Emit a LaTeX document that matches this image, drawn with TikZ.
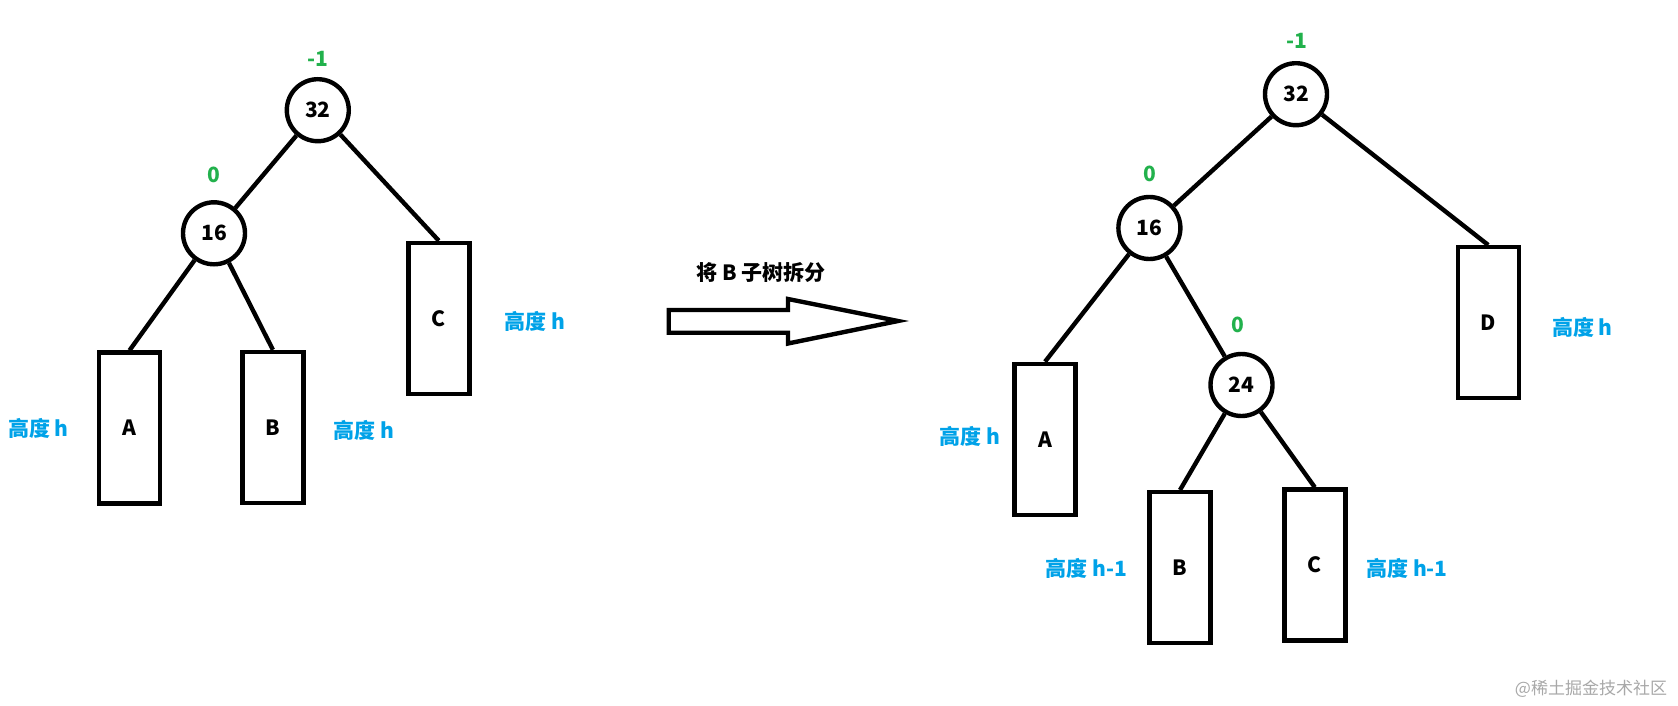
\documentclass[tikz,border=0pt]{standalone}
\usepackage{fontspec}
\setmainfont{Noto Sans CJK SC}
\definecolor{bfgreen}{HTML}{22B14C}
\definecolor{htblue}{HTML}{00A2E8}
\definecolor{wmgray}{HTML}{A8A8A8}
\begin{document}
\begin{tikzpicture}[x=1pt,y=-1pt,
  font=\fontsize{21}{21}\selectfont\bfseries,
  line width=4.4pt,
  nd/.style={circle,draw,minimum size=62pt,inner sep=0pt},
  box/.style={rectangle,draw,minimum width=61pt,minimum height=151pt,inner sep=0pt},
  bal/.style={text=bfgreen},
  ht/.style={text=htblue},
  edge/.style={line width=4.4pt}]
\useasboundingbox (0,0) rectangle (1678,706);
% ---------- left tree ----------
\node[nd] (l32) at (317.8,110.2) {32};
\node[nd] (l16) at (214,233.3) {16};
\node[box] (lA) at (129.5,428.1) {A};
\node[box] (lB) at (272.9,427.5) {B};
\node[box] (lC) at (438.8,318.4) {C};
\node[bal] (lb32) at (317.8,58.9) {-1};
\node[bal] (lb16) at (214,174.4) {0};
\node[ht] (lhA) at (38.5,428) {高度 h};
\node[ht] (lhB) at (364,430) {高度 h};
\node[ht] (lhC) at (535,321) {高度 h};
\draw[edge] (l32) -- (l16);
\draw[edge] (l32) -- (lC.north);
\draw[edge] (l16) -- (lA.north);
\draw[edge] (l16) -- (lB.north);
% ---------- arrow ----------
\node (cap) at (761,272.5) {将 B 子树拆分};
\draw[line join=miter] (668.7,310) -- (788,310) -- (788,299) -- (898,321) -- (788,343.5) -- (788,332.7) -- (668.7,332.7) -- cycle;
% ---------- right tree ----------
\node[nd] (r32) at (1296,94.2) {32};
\node[nd] (r16) at (1149.4,228) {16};
\node[nd] (r24) at (1241.5,385) {24};
\node[box] (rA) at (1045,439.4) {A};
\node[box] (rB) at (1180,567.7) {B};
\node[box] (rC) at (1314.8,565) {C};
\node[box] (rD) at (1488.2,322.7) {D};
\node[bal] (rb32) at (1297,40.7) {-1};
\node[bal] (rb16) at (1149.4,173.4) {0};
\node[bal] (rb24) at (1238.2,325.3) {0};
\node[ht] (rhA) at (969.6,436.6) {高度 h};
\node[ht] (rhB) at (1086.7,568.3) {高度 h-1};
\node[ht] (rhC) at (1407,568.3) {高度 h-1};
\node[ht] (rhD) at (1582.3,327.5) {高度 h};
\draw[edge] (r32) -- (r16);
\draw[edge] (r32) -- (rD.north);
\draw[edge] (r16) -- (rA.north);
\draw[edge] (r16) -- (r24);
\draw[edge] (r24) -- (rB.north);
\draw[edge] (r24) -- (rC.north);
% ---------- watermark ----------
\node[text=wmgray,font=\fontsize{17}{17}\selectfont] (wm) at (1591,689) {@稀土掘金技术社区};
\end{tikzpicture}
\end{document}
